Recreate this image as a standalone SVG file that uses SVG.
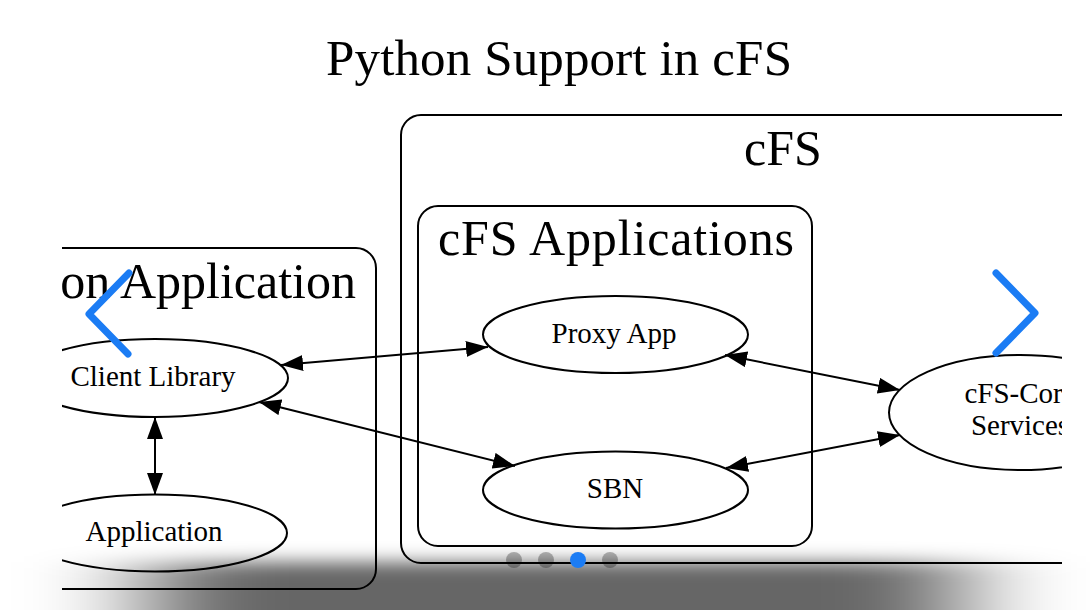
<svg xmlns="http://www.w3.org/2000/svg" width="1090" height="610" viewBox="0 0 1090 610">
<style>
  .cl { fill: #fff; stroke: #000; stroke-width: 2; }
  .nd { fill: #fff; stroke: #000; stroke-width: 2; }
  .t { font-family: "Liberation Serif", "Times New Roman", serif; fill: #000; }
  .lab { font-size: 29px; text-anchor: middle; }
  .big { font-size: 50px; }
  .e { fill: none; stroke: #000; stroke-width: 2; marker-start: url(#ah); marker-end: url(#ah); }
  .chev { fill: none; stroke: #1b7cf4; stroke-width: 7; stroke-linecap: round; stroke-linejoin: round; }
  .dot { fill: #000; fill-opacity: 0.28; }
</style>
<defs>
  <marker id="ah" markerUnits="userSpaceOnUse" markerWidth="22" markerHeight="16" refX="22" refY="8" orient="auto-start-reverse" viewBox="0 0 22 16">
    <path d="M0,0 L22,8 L0,16 z" fill="#000"/>
  </marker>
  <clipPath id="clip">
    <rect x="62" y="0" width="1000" height="610"/>
  </clipPath>
  <filter id="shadow" x="-30%" y="-60%" width="160%" height="220%">
    <feGaussianBlur stdDeviation="60 9"/>
  </filter>
</defs>
<rect x="0" y="0" width="1090" height="610" fill="#fff"/>
<g clip-path="url(#clip)">
  <text class="t" x="559" y="75" font-size="51" text-anchor="middle" textLength="466" lengthAdjust="spacing">Python Support in cFS</text>
  <g id="cluster-python">
    <rect class="cl" x="-60" y="248" width="436" height="341" rx="20"/>
    <text class="t big" x="356" y="298" text-anchor="end">Python Application</text>
  </g>
  <g id="cluster-cfs">
    <rect class="cl" x="401" y="115" width="800" height="448" rx="20"/>
    <text class="t big" x="783" y="165" text-anchor="middle">cFS</text>
  </g>
  <g id="cluster-cfs-apps">
    <rect class="cl" x="418" y="206" width="394" height="340" rx="20"/>
    <text class="t big" x="616" y="255" text-anchor="middle" textLength="356" lengthAdjust="spacing">cFS Applications</text>
  </g>
  <g id="node-client-library">
    <ellipse class="nd" cx="155" cy="378" rx="133" ry="39"/>
    <text class="t lab" x="153" y="386">Client Library</text>
  </g>
  <g id="node-application">
    <ellipse class="nd" cx="155" cy="533" rx="132" ry="38.5"/>
    <text class="t lab" x="154" y="541">Application</text>
  </g>
  <g id="node-proxy-app">
    <ellipse class="nd" cx="615.5" cy="334.5" rx="132.5" ry="38.5"/>
    <text class="t lab" x="614" y="343">Proxy App</text>
  </g>
  <g id="node-sbn">
    <ellipse class="nd" cx="615.5" cy="490" rx="132.5" ry="38.5"/>
    <text class="t lab" x="615" y="498">SBN</text>
  </g>
  <g id="node-cfs-core">
    <ellipse class="nd" cx="1020" cy="412.5" rx="131" ry="57.5"/>
    <text class="t lab" x="1020" y="403">cFS-Core</text>
    <text class="t lab" x="1020" y="435">Services</text>
  </g>
  <g id="connectors">
    <path class="e" d="M281,365 L488,347"/>
    <path class="e" d="M259,402 L515,466"/>
    <path class="e" d="M155,417 L155,495"/>
    <path class="e" d="M725,355 L900,390"/>
    <path class="e" d="M726,468 L900,435"/>
  </g>
</g>
<rect x="150" y="562" width="810" height="140" fill="#000" fill-opacity="0.6" filter="url(#shadow)"/>
<g id="carousel-controls">
  <polyline class="chev" points="129,273 89,314 128,354"/>
  <polyline class="chev" points="996,273 1035,313 996,353"/>
  <circle class="dot" cx="514" cy="560" r="8"/>
  <circle class="dot" cx="546" cy="560" r="8"/>
  <circle cx="578" cy="560" r="8" fill="#1b7cf4"/>
  <circle class="dot" cx="610" cy="560" r="8"/>
</g>
</svg>
